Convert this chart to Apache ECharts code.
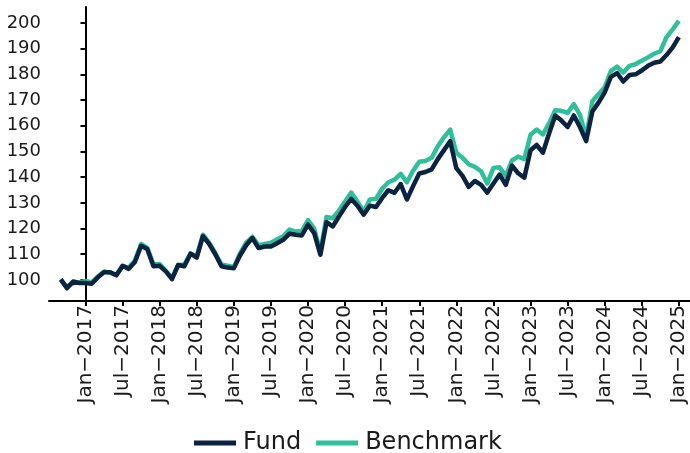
<!DOCTYPE html>
<html>
<head>
<meta charset="utf-8">
<script src="https://cdn.jsdelivr.net/npm/echarts@6/dist/echarts.min.js"></script>
<style>
  html, body { margin: 0; padding: 0; background: #fff; }
  #chart { width: 690px; height: 453px; }
</style>
</head>
<body>
<div id="chart"></div>
<script>
'use strict';

// x 轴: 以 2017-01 为 0 的月份序号
var tickLabels = ['Jan−2017', 'Jul−2017', 'Jan−2018', 'Jul−2018', 'Jan−2019', 'Jul−2019',
    'Jan−2020', 'Jul−2020', 'Jan−2021', 'Jul−2021', 'Jan−2022', 'Jul−2022',
    'Jan−2023', 'Jul−2023', 'Jan−2024', 'Jul−2024', 'Jan−2025'];
var tickMonths = [0, 6, 12, 18, 24, 30, 36, 42, 48, 54, 60, 66, 72, 78, 84, 90, 96];
var yTicks = [100, 110, 120, 130, 140, 150, 160, 170, 180, 190, 200];

// 第一个数据点: 2016-09
var startMonth = -4;

var fund = [
    100.2, 96.8, 99.4, 98.8,
    98.8, 98.5, 101, 103, 103, 101.8, 105.5, 104.3, 107, 113.3, 112, 105.3,
    105.5, 103.3, 100.3, 105.8, 105.3, 110.2, 108.7, 117, 114, 110, 105.3, 104.8,
    104.5, 109.5, 113.5, 116.3, 112.4, 113, 113, 114.3, 115.6, 118, 117.6, 117.3,
    121.5, 118.2, 109.8, 122.5, 120.8, 124.7, 128.4, 131.5, 128.9, 125.4, 128.9, 128.4,
    131.9, 134.9, 133.9, 137.3, 131.3, 136.5, 141.4, 142, 143, 147, 150.5, 154,
    143.5, 140.5, 136.2, 138.5, 137, 134, 137.5, 141, 137, 144.5, 141.5, 139.8,
    150.5, 152.5, 149.5, 157, 164, 162, 159.5, 164, 159.5, 154, 165.5, 169,
    173, 179, 180.5, 177.2, 179.7, 180, 181.5, 183.3, 184.5, 185, 187.5, 190.5,
    194.5
];

var benchmark = [
    100, 97.3, 98.8, 99,
    99.6, 99, 101.3, 103.3, 102.8, 102, 105.3, 104.8, 107.5, 114, 112.5, 106,
    106.2, 103.5, 100.8, 105.8, 106, 110.3, 109.2, 117.6, 114.5, 110.5, 106, 105.5,
    105, 110.3, 114.5, 116.8, 113.5, 114, 114.5, 115.8, 117, 119.6, 118.8, 119,
    123.3, 120, 111, 124.5, 124, 127, 130.5, 134, 130.5, 126.5, 131.3, 131.6,
    135.5, 138, 139, 141.3, 138, 142.5, 146, 146.3, 147.5, 152, 155.5, 158.5,
    149.5, 147.5, 145, 144, 142.3, 137.5, 143.6, 143.8, 140.4, 146.5, 148, 147,
    156.5, 158.5, 156.6, 161, 166, 165.8, 165, 168.4, 164.2, 155.5, 169.5, 172.3,
    175, 181.3, 183, 180.7, 183.3, 184, 185.3, 186.6, 188, 189, 194.5, 197.5,
    200.8
];

var FONT = 'DejaVu Sans';

function toPairs(values) {
    return values.map(function (v, i) { return [startMonth + i, v]; });
}

var chart = echarts.init(document.getElementById('chart'), null, { renderer: 'canvas' });

var option = {
    animation: false,
    backgroundColor: '#fff',
    grid: {
        left: 49,
        right: 0,
        top: 7,
        bottom: 152,
        outerBoundsMode: 'none'
    },
    legend: {
        data: ['Fund', 'Benchmark'],
        left: 189,
        top: 424,
        icon: 'rect',
        itemWidth: 42,
        itemHeight: 5,
        itemGap: 15,
        textStyle: {
            fontFamily: FONT,
            fontSize: 24,
            color: '#1a1a1a',
            lineHeight: 28,
            padding: [0, 0, 0, 2]
        }
    },
    xAxis: {
        type: 'value',
        min: -5.9,
        max: 97.8,
        splitLine: { show: false },
        axisLine: { show: true, lineStyle: { color: '#000', width: 2 } },
        axisTick: {
            show: true,
            length: 5,
            customValues: tickMonths,
            lineStyle: { color: '#000', width: 2 }
        },
        axisLabel: {
            rotate: 90,
            margin: 4,
            customValues: tickMonths,
            fontFamily: FONT,
            fontSize: 20,
            color: '#1a1a1a',
            formatter: function (v) {
                var idx = tickMonths.indexOf(Math.round(v));
                return idx >= 0 ? tickLabels[idx] : '';
            }
        }
    },
    yAxis: {
        type: 'value',
        min: 91.8,
        max: 206.2,
        splitLine: { show: false },
        axisLine: { show: true, lineStyle: { color: '#000', width: 2 } },
        axisTick: {
            show: true,
            length: 5,
            customValues: yTicks,
            lineStyle: { color: '#000', width: 2 }
        },
        axisLabel: {
            margin: 8,
            customValues: yTicks,
            fontFamily: FONT,
            fontSize: 18,
            color: '#1a1a1a'
        }
    },
    series: [
        {
            name: 'Benchmark',
            type: 'line',
            data: toPairs(benchmark),
            symbol: 'none',
            color: '#2fbf9b',
            lineStyle: { width: 4.5, color: '#2fbf9b', join: 'round' },
            z: 2
        },
        {
            name: 'Fund',
            type: 'line',
            data: toPairs(fund),
            symbol: 'none',
            color: '#0b2240',
            lineStyle: { width: 4.5, color: '#0b2240', join: 'round' },
            z: 3
        }
    ]
};

chart.setOption(option);
</script>
</body>
</html>
